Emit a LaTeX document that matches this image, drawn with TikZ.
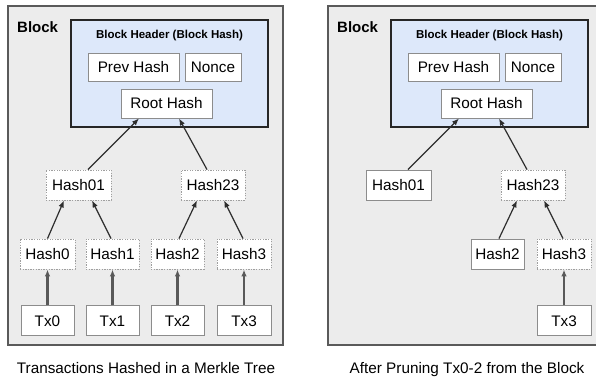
\documentclass[tikz,border=0pt]{standalone}
\usepackage{fontspec}
\setmainfont{Liberation Sans}
\usetikzlibrary{positioning, arrows.meta, calc, shadows}
\definecolor{blockfill}{HTML}{ECECEC}
\definecolor{blockline}{HTML}{5A5A5A}
\definecolor{headfill}{HTML}{DDE8FA}
\definecolor{boxline}{HTML}{8C8C8C}
\definecolor{arrowline}{HTML}{2E2E2E}
\tikzset{
    every node/.append style={font=\fontsize{15.3}{17}\selectfont, inner sep=0pt},
    blockbox/.style={draw=blockline, fill=blockfill, line width=1.6pt,
      minimum width=275pt, minimum height=339pt,
      drop shadow={shadow xshift=1pt, shadow yshift=-1pt, opacity=0.25}},
    headbox/.style={draw=black!85, fill=headfill, line width=1.6pt,
      minimum width=197pt, minimum height=107pt,
      drop shadow={shadow xshift=1pt, shadow yshift=-1pt, opacity=0.3}},
    plainbox/.style={draw=boxline, fill=white, line width=0.9pt, minimum height=30pt},
    dotbox/.style={plainbox, draw=gray!75, dash pattern=on 1.3pt off 1.3pt},
    link/.style={draw=arrowline, line width=1.2pt, -{Latex[length=7pt, width=5.5pt]}},
    txlink/.style={link, draw=black!65, line width=2.4pt},
}
% outer block and its header, #1 = name prefix, #2 = x offset
\newcommand{\BlockFrame}[2]{%
  \begin{scope}[xshift=#2]
    \node[blockbox] (#1block) at (145.5,175.5) {};
    \node[anchor=west, font=\fontsize{15}{17}\selectfont\bfseries] (#1label) at (17,27) {Block};
    \node[headbox] (#1head) at (169.5,73.5) {};
    \node[font=\fontsize{11.5}{13}\selectfont\bfseries] (#1title) at (169.5,36) {Block Header (Block Hash)};
    \node[plainbox, minimum width=91pt, minimum height=28pt] (#1prev) at (133.5,67) {Prev Hash};
    \node[plainbox, minimum width=56pt, minimum height=28pt] (#1nonce) at (213,67) {Nonce};
    \node[plainbox, minimum width=91pt, minimum height=29pt] (#1root) at (166.5,103.5) {Root Hash};
  \end{scope}}

\begin{document}
\begin{tikzpicture}[x=1pt, y=-1pt]
    \path[use as bounding box, clip] (0,0) rectangle (596,377);
    \fill[white] (0,0) rectangle (596,377);

    % full merkle tree
    \BlockFrame{l}{0}
    \node[dotbox, minimum width=65pt] (lh01) at (78.5,185) {Hash01};
    \node[dotbox, minimum width=64pt] (lh23) at (213,185) {Hash23};
    \node[dotbox, minimum width=55pt] (lh0) at (47.5,254) {Hash0};
    \node[dotbox, minimum width=53pt] (lh1) at (112.5,254) {Hash1};
    \node[dotbox, minimum width=53pt] (lh2) at (177.5,254) {Hash2};
    \node[dotbox, minimum width=54pt] (lh3) at (244,254) {Hash3};
    \node[plainbox, minimum width=53pt, below=36pt of lh0] (ltx0) {Tx0};
    \node[plainbox, minimum width=53pt, below=36pt of lh1] (ltx1) {Tx1};
    \node[plainbox, minimum width=53pt, below=36pt of lh2] (ltx2) {Tx2};
    \node[plainbox, minimum width=54pt, below=36pt of lh3] (ltx3) {Tx3};
    \node[anchor=base] (lcap) at (146,373) {Transactions Hashed in a Merkle Tree};

    \draw[link] ([xshift=9.5pt]lh01.north) -- ([xshift=-27.5pt]lroot.south);
    \draw[link] ([xshift=-6pt]lh23.north) -- ([xshift=12.5pt]lroot.south);
    \draw[link] (lh0.north) -- ([xshift=-14.5pt]lh01.south);
    \draw[link] ([xshift=-1.5pt]lh1.north) -- ([xshift=13.5pt]lh01.south);
    \draw[link] ([xshift=1.5pt]lh2.north) -- ([xshift=-16pt]lh23.south);
    \draw[link] ([xshift=-1pt]lh3.north) -- ([xshift=11pt]lh23.south);
    \draw[txlink] (ltx0) -- (lh0);
    \draw[txlink] (ltx1) -- (lh1);
    \draw[txlink] (ltx2) -- (lh2);
    \draw[txlink] (ltx3) -- (lh3);

    % pruned tree
    \BlockFrame{r}{320}
    \node[plainbox, minimum width=65pt] (rh01) at (398.5,185) {Hash01};
    \node[dotbox, minimum width=64pt] (rh23) at (533,185) {Hash23};
    \node[plainbox, minimum width=53pt] (rh2) at (497.5,254) {Hash2};
    \node[dotbox, minimum width=54pt] (rh3) at (564,254) {Hash3};
    \node[plainbox, minimum width=54pt, below=36pt of rh3] (rtx3) {Tx3};
    \node[anchor=base] (rcap) at (467,373) {After Pruning Tx0-2 from the Block};

    \draw[link] ([xshift=9.5pt]rh01.north) -- ([xshift=-27.5pt]rroot.south);
    \draw[link] ([xshift=-6pt]rh23.north) -- ([xshift=12.5pt]rroot.south);
    \draw[link] ([xshift=1.5pt]rh2.north) -- ([xshift=-16pt]rh23.south);
    \draw[link] ([xshift=-1pt]rh3.north) -- ([xshift=11pt]rh23.south);
    \draw[txlink] (rtx3) -- (rh3);
\end{tikzpicture}
\end{document}
